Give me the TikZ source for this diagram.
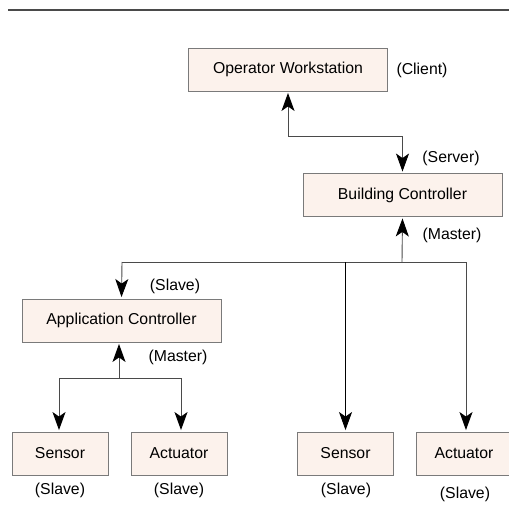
\documentclass[tikz,border=0pt]{standalone}
\usepackage{fontspec}
\setmainfont{Liberation Sans}
\usetikzlibrary{arrows.meta}
\definecolor{boxfill}{HTML}{FCF2EC}
\definecolor{boxline}{HTML}{7A7A7A}
\definecolor{wire}{HTML}{4A4A4A}
\begin{document}
\begin{tikzpicture}[x=1bp,y=-1bp,>={Stealth[length=18bp,width=13bp,inset=4.5bp,black]},
  font=\fontsize{15.8bp}{19bp}\selectfont,
  unit/.style={draw=boxline,fill=boxfill,line width=0.9bp,minimum height=43bp,inner sep=0pt},
  wide/.style={unit,minimum width=199bp},
  small/.style={unit,minimum width=96bp},
  conn/.style={draw=wire,line width=0.9bp},
  feed/.style={conn,->,shorten >=1.5bp}]
  \useasboundingbox (0,0) rectangle (509,529);
  \draw[wire,line width=2bp] (8,10) -- (509,10);
  \node[wide] (ow) at (288,69.5) {Operator Workstation};
  \node[wide] (bc) at (402.5,195) {Building Controller};
  \node[wide] (ac) at (121.5,320.5) {Application Controller};
  \node[small] (sen1) at (60,453.5) {Sensor};
  \node[small] (act1) at (179,453.5) {Actuator};
  \node[small] (sen2) at (345.5,453.5) {Sensor};
  \node[small] (act2) at (464,453.5) {Actuator};
  \node (client) at (422,70) {(Client)};
  \node (server) at (451,158) {(Server)};
  \node (bcmaster) at (452,235) {(Master)};
  \node (acslave) at (175,286) {(Slave)};
  \node (acmaster) at (178,357) {(Master)};
  \node (sen1slave) at (60,490) {(Slave)};
  \node (act1slave) at (179,490) {(Slave)};
  \node (sen2slave) at (346,490) {(Slave)};
  \node (act2slave) at (465,494) {(Slave)};
  \coordinate (busl) at (122,262);
  \coordinate (busm) at (402,262);
  \coordinate (busr) at (466,262);
  \coordinate (fieldl) at (59,378);
  \coordinate (fieldm) at (119,378);
  \coordinate (fieldr) at (181,378);
  \draw[feed,<->,shorten <=1.5bp] (ow.south) -- ++(0,45) -| (bc.north);
  \draw[conn] (busl) -- (busr);
  \draw[feed] (busm) -- (bc.south);
  \draw[feed] (busl) -- (ac.north);
  \draw[feed,draw=black] (sen2.north |- busl) -- (sen2.north);
  \draw[feed] (busr) -- (act2.north -| busr);
  \draw[conn] (fieldl) -- (fieldr);
  \draw[feed] (fieldm) -- (ac.south -| fieldm);
  \draw[feed] (fieldl) -- (sen1.north -| fieldl);
  \draw[feed] (fieldr) -- (act1.north -| fieldr);
\end{tikzpicture}
\end{document}
